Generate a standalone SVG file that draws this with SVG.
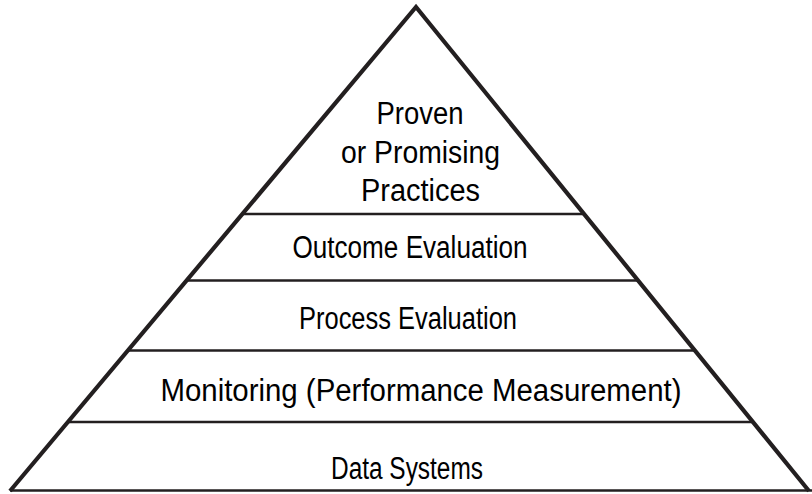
<svg xmlns="http://www.w3.org/2000/svg" width="812" height="494" viewBox="0 0 812 494">
<style>
.edge{fill:none;stroke:#231f20;stroke-width:4.2;stroke-linejoin:miter;stroke-miterlimit:20}
.sep{stroke:#231f20;stroke-width:2.6}
text{font-family:"Liberation Sans",Arial,sans-serif;font-size:31px;fill:#000;text-anchor:middle}
</style>
<rect width="812" height="494" fill="#fff"/>
<g id="connectors">
<line class="sep" x1="242" y1="214" x2="584" y2="214"/>
<line class="sep" x1="186" y1="280.5" x2="638" y2="280.5"/>
<line class="sep" x1="128" y1="350.5" x2="695" y2="350.5"/>
<line class="sep" x1="68" y1="422" x2="753" y2="422"/>
<line class="sep" x1="10" y1="490.5" x2="812" y2="490.5"/>
</g>
<g id="pyramid">
<polyline class="edge" points="10,491 416,7 809,491"/>
</g>
<g id="n-proven">
<text x="420" y="124" textLength="87" lengthAdjust="spacingAndGlyphs">Proven</text>
<text x="420.5" y="162.5" textLength="159" lengthAdjust="spacingAndGlyphs">or Promising</text>
<text x="420.5" y="200.5" textLength="119" lengthAdjust="spacingAndGlyphs">Practices</text>
</g>
<g id="n-outcome"><text x="410" y="258" textLength="235" lengthAdjust="spacingAndGlyphs">Outcome Evaluation</text></g>
<g id="n-process"><text x="408" y="329" textLength="218" lengthAdjust="spacingAndGlyphs">Process Evaluation</text></g>
<g id="n-monitoring"><text x="421" y="401" textLength="521" lengthAdjust="spacingAndGlyphs">Monitoring (Performance Measurement)</text></g>
<g id="n-data"><text x="407" y="479" textLength="152" lengthAdjust="spacingAndGlyphs">Data Systems</text></g>
</svg>
